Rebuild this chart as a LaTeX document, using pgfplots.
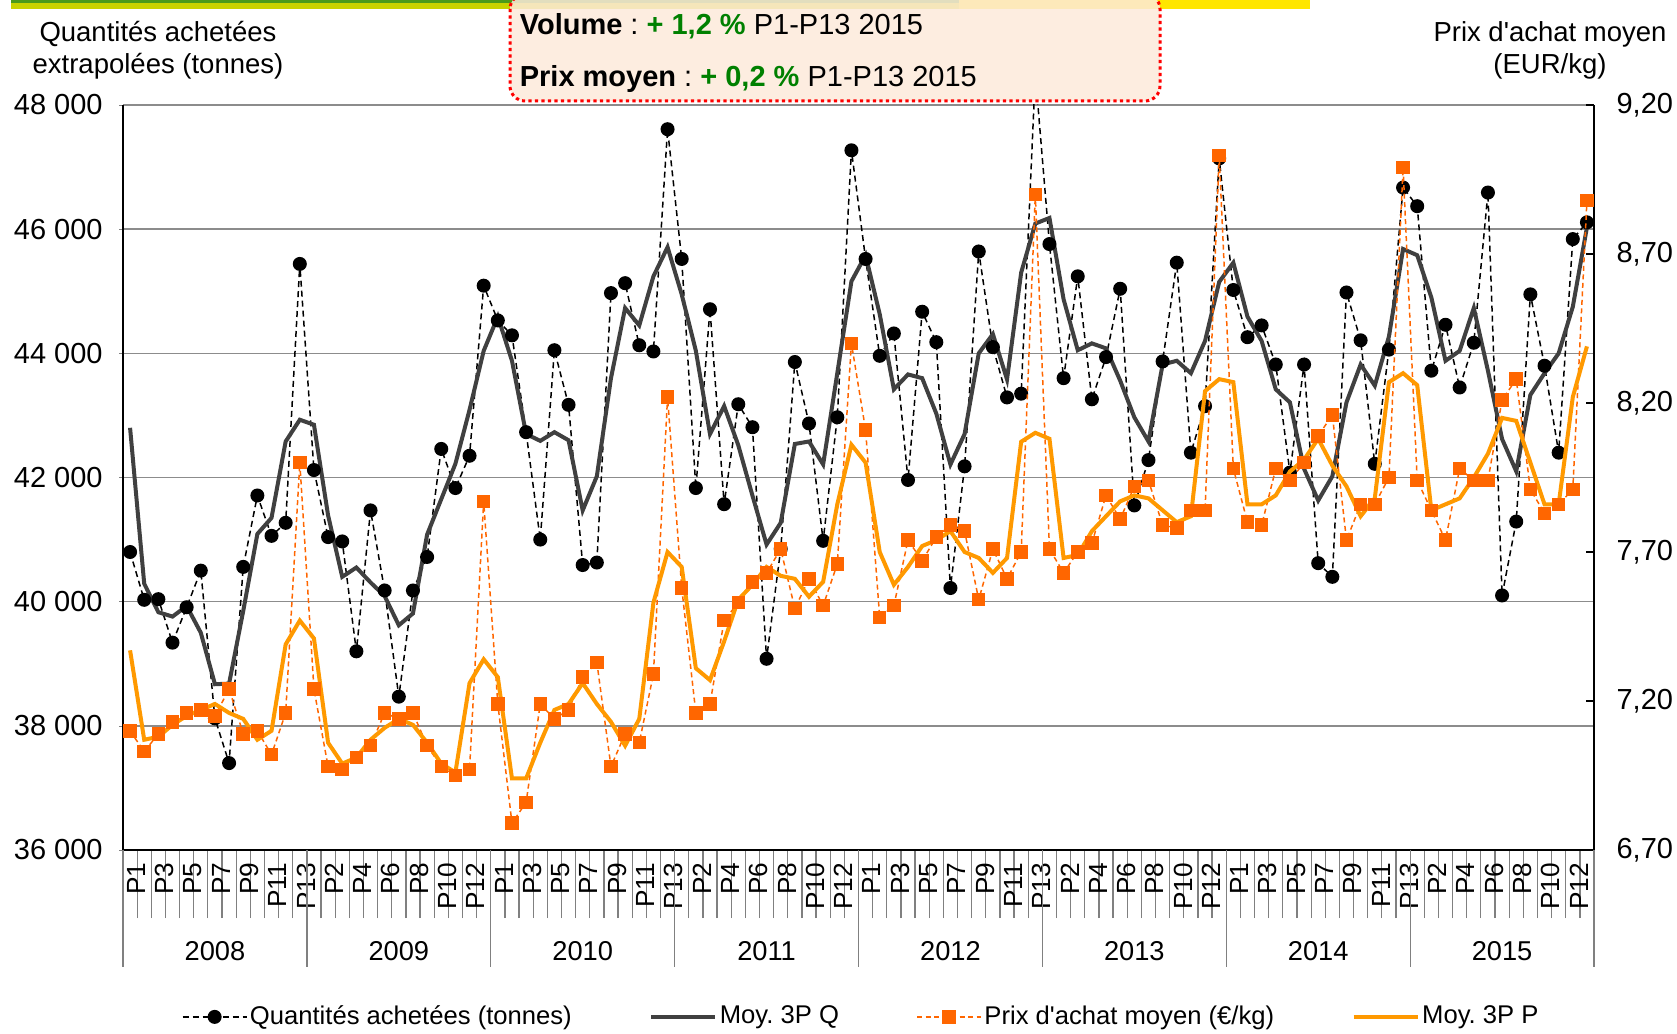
\documentclass[border=0pt]{standalone}
\usepackage{fontspec}
\setmainfont{Liberation Sans}
\usepackage{pgfplots}
\usepackage{pgfplotstable}
\pgfplotsset{compat=1.18}
\frenchspacing

\definecolor{qgray}{HTML}{404040}
\definecolor{porange}{HTML}{FF6600}
\definecolor{mporange}{HTML}{FF9900}
\definecolor{boxgreen}{HTML}{008000}
\definecolor{boxfill}{HTML}{FDEADB}
\definecolor{bardark}{HTML}{4C9A1A}
\definecolor{barlight}{HTML}{C9D200}
\definecolor{baryellow}{HTML}{FFE600}

% k = period index (13 periods per year, 2008..2015)
\pgfplotstableread{
k Q MQ P MP
0 40800 42800 7.10 7.37
1 40030 40290 7.03 7.07
2 40040 39830 7.09 7.08
3 39340 39760 7.13 7.12
4 39910 39930 7.16 7.15
5 40500 39500 7.17 7.17
6 38120 38670 7.15 7.19
7 37400 38680 7.24 7.16
8 40560 39850 7.09 7.14
9 41710 41090 7.10 7.07
10 41060 41350 7.02 7.10
11 41270 42580 7.16 7.39
12 45440 42930 8.00 7.47
13 42120 42850 7.24 7.41
14 41040 41390 6.98 7.06
15 40970 40400 6.97 6.99
16 39200 40550 7.01 7.01
17 41470 40310 7.05 7.07
18 40180 40090 7.16 7.11
19 38470 39620 7.14 7.14
20 40180 39810 7.16 7.12
21 40720 41080 7.05 7.06
22 42460 41650 6.98 6.99
23 41830 42220 6.95 6.96
24 42350 43090 6.97 7.26
25 45090 44040 7.87 7.34
26 44530 44590 7.19 7.28
27 44290 43880 6.79 6.94
28 42730 42700 6.86 6.94
29 41000 42590 7.19 7.06
30 44050 42730 7.14 7.17
31 43170 42600 7.17 7.19
32 40590 41470 7.28 7.26
33 40630 42020 7.33 7.19
34 44970 43600 6.98 7.13
35 45130 44730 7.09 7.05
36 44130 44450 7.06 7.14
37 44030 45240 7.29 7.53
38 47610 45710 8.22 7.70
39 45520 44950 7.58 7.65
40 41830 44040 7.16 7.31
41 44710 42700 7.19 7.27
42 41570 43150 7.47 7.40
43 43180 42520 7.53 7.54
44 42810 41710 7.60 7.59
45 39080 40920 7.63 7.65
46 40850 41270 7.71 7.62
47 43860 42540 7.51 7.61
48 42870 42580 7.61 7.55
49 40980 42210 7.52 7.60
50 42970 43680 7.66 7.86
51 47270 45160 8.40 8.06
52 45520 45580 8.11 8.00
53 43960 44630 7.48 7.70
54 44320 43420 7.52 7.59
55 41960 43660 7.74 7.65
56 44670 43600 7.67 7.72
57 44180 43030 7.75 7.74
58 40220 42210 7.79 7.77
59 42180 42700 7.77 7.70
60 45640 44000 7.54 7.68
61 44100 44310 7.71 7.63
62 43290 43580 7.61 7.68
63 43350 45300 7.70 8.07
64 48500 46090 8.90 8.10
65 45760 46180 7.71 8.08
66 43600 44870 7.63 7.68
67 45240 44050 7.70 7.69
68 43260 44160 7.73 7.77
69 43940 44080 7.89 7.82
70 45040 43560 7.81 7.87
71 41550 42970 7.92 7.89
72 42280 42580 7.94 7.88
73 43870 43820 7.79 7.84
74 45460 43880 7.78 7.80
75 42400 43680 7.84 7.82
76 43150 44200 7.84 8.24
77 47140 45150 9.03 8.28
78 45020 45460 7.98 8.27
79 44260 44590 7.80 7.86
80 44450 44200 7.79 7.86
81 43820 43420 7.98 7.89
82 42080 43210 7.94 7.97
83 43820 42140 8.00 8.01
84 40620 41630 8.09 8.08
85 40400 42020 8.16 7.99
86 44980 43210 7.74 7.92
87 44210 43820 7.86 7.82
88 42220 43480 7.86 7.88
89 44060 44270 7.95 8.27
90 46670 45680 8.99 8.30
91 46370 45580 7.94 8.26
92 43720 44900 7.84 7.84
93 44460 43880 7.74 7.86
94 43450 44040 7.98 7.88
95 44170 44730 7.94 7.95
96 46590 43720 7.94 8.03
97 40100 42620 8.21 8.15
98 41290 42100 8.28 8.14
99 44950 43330 7.91 8.00
100 43800 43680 7.83 7.86
101 42400 44000 7.86 7.86
102 45840 44750 7.91 8.22
103 46110 46030 8.88 8.39
}\ventes

\pgfplotsset{
  qstyle/.style={black, line width=0.6pt, dash pattern=on 2.4pt off 1.6pt,
    mark=*, mark size=2.5pt, mark options={solid, fill=black}},
  mqstyle/.style={qgray, line width=1.6pt, no marks},
  pstyle/.style={porange, line width=0.6pt, dash pattern=on 2pt off 1.4pt,
    mark=square*, mark size=2.4pt, mark options={solid, fill=porange}},
  mpstyle/.style={mporange, line width=1.6pt, no marks},
}

\begin{document}
\begin{tikzpicture}
\path[use as bounding box] (0,0) rectangle (670.8pt,-413.6pt);

% coloured bands at the top
\begin{scope}[x=0.4pt,y=-0.4pt]
\fill[bardark] (11,0) rectangle (959,3.5);
\fill[barlight] (11,3.5) rectangle (959,9);
\fill[baryellow] (959,0) rectangle (1310,9);
\end{scope}

\begin{axis}[
  at={(49.2pt,-340pt)}, anchor=south west,
  width=588.4pt, height=298pt, scale only axis,
  xmin=-0.5, xmax=103.5,
  ymin=36000, ymax=48000,
  scaled y ticks=false,
  axis x line*=bottom, axis y line*=left,
  axis line style={-, black, line width=0.9pt},
  ytick={36000,38000,...,48000},
  yticklabels={36 000,38 000,40 000,42 000,44 000,46 000,48 000},
  ymajorgrids, grid style={black!45, line width=0.6pt},
  tick align=outside, major tick length=1.6pt,
  xtick={0,2,...,102},
  xticklabels={P1,P3,P5,P7,P9,P11,P13,P2,P4,P6,P8,P10,P12,
               P1,P3,P5,P7,P9,P11,P13,P2,P4,P6,P8,P10,P12,
               P1,P3,P5,P7,P9,P11,P13,P2,P4,P6,P8,P10,P12,
               P1,P3,P5,P7,P9,P11,P13,P2,P4,P6,P8,P10,P12},
  minor xtick={-0.5,0.5,...,103.5},
  minor tick length=27.2pt,
  major x tick style={draw=none},
  minor x tick style={black!50, line width=0.5pt},
  xticklabel style={rotate=90, anchor=east, font=\fontsize{10.5}{12}\selectfont, yshift=-2.5pt},
  yticklabel style={font=\fontsize{11.6}{13}\selectfont, xshift=-3pt},
]
\addplot[qstyle] table[x=k, y=Q] {\ventes};
\addplot[mqstyle] table[x=k, y=MQ] {\ventes};
\end{axis}

\begin{axis}[
  at={(49.2pt,-340pt)}, anchor=south west,
  width=588.4pt, height=298pt, scale only axis,
  xmin=-0.5, xmax=103.5,
  ymin=6.7, ymax=9.2,
  axis y line*=right, axis x line=none,
  axis line style={-, black, line width=0.9pt},
  xtick=\empty,
  ytick={6.7,7.2,7.7,8.2,8.7,9.2},
  yticklabels={{6,70},{7,20},{7,70},{8,20},{8,70},{9,20}},
  tick align=inside, major tick length=3.2pt,
  ytick style={black, line width=0.6pt},
  yticklabel style={font=\fontsize{11.6}{13}\selectfont, xshift=5.5pt},
  legend columns=4,
  legend style={at={(0.502,-0.224)}, anchor=center, draw=none, fill=none,
    font=\fontsize{10.25}{12}\selectfont,
    nodes={inner xsep=1pt},
    /tikz/every even column/.append style={column sep=30pt}},
  legend image code/.code={\draw[mark repeat=2, mark phase=2, #1]
    plot coordinates {(0pt,0pt) (12.8pt,0pt) (25.6pt,0pt)};},
]
\addlegendimage{qstyle}
\addlegendentry{Quantités achetées (tonnes)}
\addlegendimage{mqstyle}
\addlegendentry{Moy. 3P Q}
\addplot[pstyle] table[x=k, y=P] {\ventes};
\addlegendentry{Prix d\textquotesingle achat moyen (€/kg)}
\addplot[mpstyle] table[x=k, y=MP] {\ventes};
\addlegendentry{Moy. 3P P}
\end{axis}

\begin{scope}[x=0.4pt,y=-0.4pt]
% year separators and year labels
\foreach \j in {0,...,8}
  \draw[black!50, line width=0.5pt] ({123+183.875*\j},850) -- ++(0,117);
\foreach \yr [count=\j from 0] in {2008,...,2015}
  \node[font=\fontsize{10.9}{12}\selectfont] at ({123+183.875*\j+91.94},951) {\yr};
% axis titles
\node[align=center, font=\fontsize{11}{12.8}\selectfont] at (158,50)
  {Quantités achetées\\extrapolées (tonnes)};
\node[align=center, font=\fontsize{11}{12.8}\selectfont] at (1550,50)
  {Prix d\textquotesingle achat moyen\\(EUR/kg)};
% summary box
\draw[red, line width=1.2pt, dash pattern=on 1.3pt off 1.3pt, rounded corners=6pt,
  fill=boxfill, fill opacity=0.85] (510,-6) rectangle (1160,101);
\node[anchor=west, font=\fontsize{11.6}{13}\selectfont] at (511,26)
  {\textbf{Volume} : \textcolor{boxgreen}{\textbf{+ 1,2 \%}} P1-P13 2015};
\node[anchor=west, font=\fontsize{11.6}{13}\selectfont] at (511,79)
  {\textbf{Prix moyen} : \textcolor{boxgreen}{\textbf{+ 0,2 \%}} P1-P13 2015};
\end{scope}
\end{tikzpicture}
\end{document}
